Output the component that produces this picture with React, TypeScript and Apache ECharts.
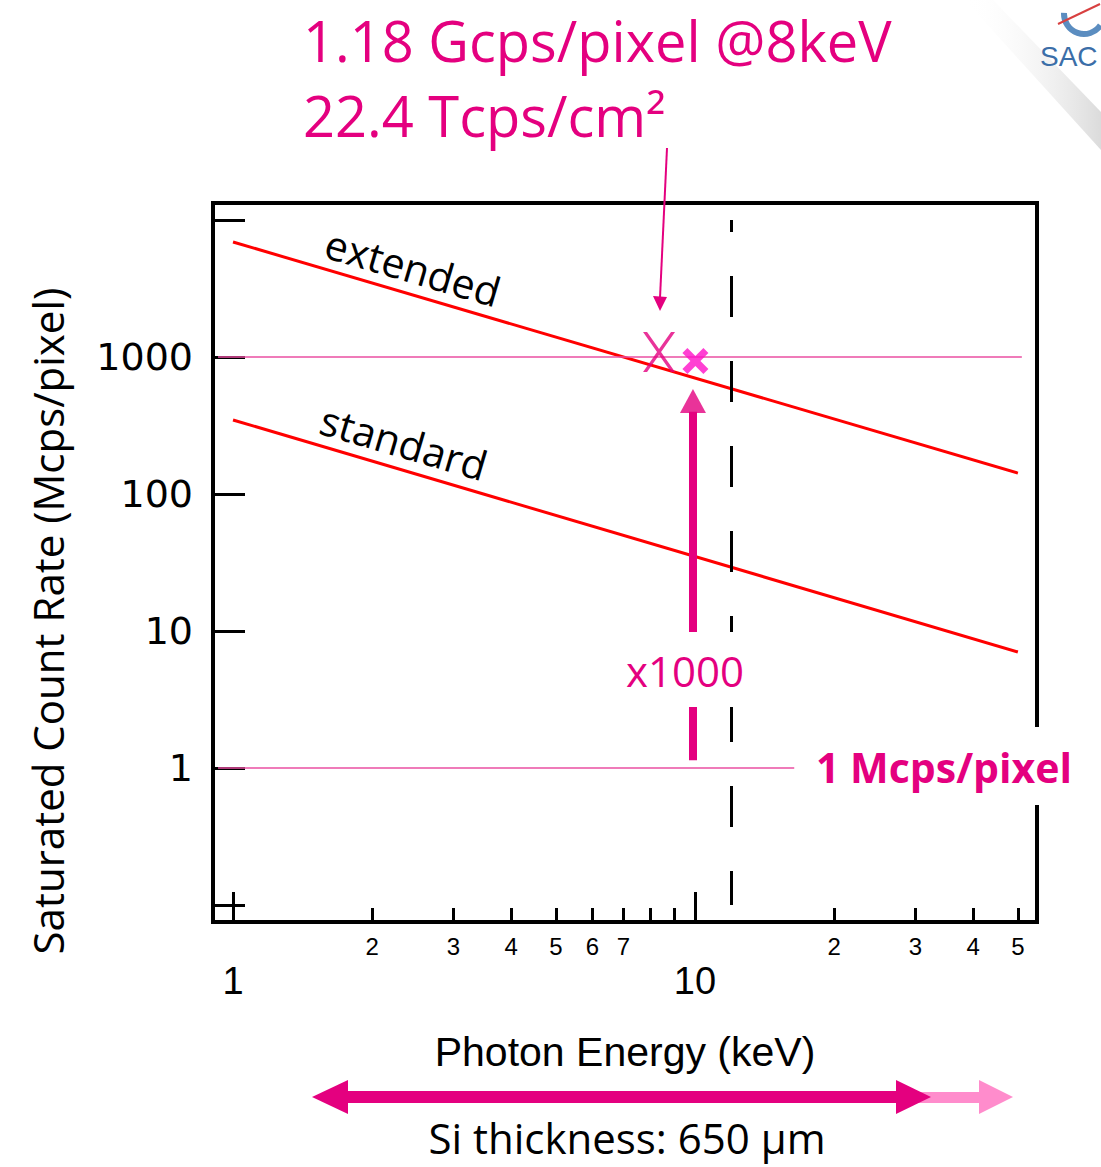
import React, { useEffect, useRef } from "react";
import * as echarts from "echarts";

// ---- data ----
const energyEnds = [1, 50]; // keV, end points of the two rate lines
const extendedRate = [6905, 142]; // Mcps/pixel
const standardRate = [347, 7.03]; // Mcps/pixel
const xMinorTicks = [2, 3, 4, 5, 6, 7, 8, 9, 20, 30, 40, 50];
const xMinorLabels = [2, 3, 4, 5, 6, 7, 20, 30, 40, 50];
const xMajorTicks = [1, 10];
const yTicks = [0.1, 1, 10, 100, 1000, 10000];
const yLabels = [1, 10, 100, 1000];
const limitRates = [1000, 1]; // horizontal reference levels
const limitEnergySpans = [
  [0.928, 51],
  [0.928, 16.4],
];
const dashedEnergy = 12;
const dashedRateSpan = [10000, 0.1];
const markThin = [8.36, 1087];
const markBold = [10.02, 935];
const arrowEnergy = 9.9;
const arrowRateSpan = [1.14, 398];
const arrowHead = [9.9, 477];

const MAG = "#e4007f";
const PINK = "#ea4fa2";
const SANS = "'Open Sans', 'Noto Sans', sans-serif";
const ARIAL = "'Liberation Sans', Arial, sans-serif";

export default function App() {
  const ref = useRef<HTMLDivElement>(null);
  useEffect(() => {
    document.body.style.margin = "0";
    const chart = echarts.init(ref.current!, null, { renderer: "svg" });
    const xBase = {
      type: "log",
      logBase: 10,
      min: 0.905,
      max: 55,
      position: "bottom",
      axisLine: { show: false },
      splitLine: { show: false },
      minorTick: { show: false },
    };
    const option: any = {
      animation: false,
      backgroundColor: "#ffffff",
      grid: {
        left: 213,
        top: 203,
        right: 64,
        bottom: 245,
        show: true,
        borderColor: "#000",
        borderWidth: 4,
        backgroundColor: "transparent",
      },
      xAxis: [
        {
          ...xBase,
          axisTick: {
            show: true,
            inside: true,
            length: 14,
            lineStyle: { color: "#000", width: 3 },
            customValues: xMinorTicks,
          },
          axisLabel: {
            customValues: xMinorLabels,
            formatter: (v: number) => String(v >= 10 ? Math.round(v / 10) : Math.round(v)),
            fontFamily: ARIAL,
            fontSize: 24,
            color: "#000",
            margin: 12,
          },
        },
        {
          ...xBase,
          axisTick: {
            show: true,
            inside: true,
            length: 30,
            lineStyle: { color: "#000", width: 3 },
            customValues: xMajorTicks,
          },
          axisLabel: {
            customValues: xMajorTicks,
            formatter: (v: number) => String(Math.round(v)),
            fontFamily: ARIAL,
            fontSize: 38,
            color: "#000",
            margin: 40,
          },
        },
      ],
      yAxis: {
        type: "log",
        logBase: 10,
        min: 0.0752,
        max: 13300,
        axisLine: { show: false },
        splitLine: { show: false },
        axisTick: {
          show: true,
          inside: true,
          length: 32,
          lineStyle: { color: "#000", width: 3 },
          customValues: yTicks,
        },
        axisLabel: {
          customValues: yLabels,
          formatter: (v: number) => String(Math.round(v)),
          fontFamily: "'DejaVu Sans', sans-serif",
          fontSize: 38,
          color: "#000",
          margin: 20,
        },
      },
      series: [
        {
          type: "line",
          name: "guides",
          data: [],
          z: 1,
          silent: true,
          markLine: {
            silent: true,
            symbol: "none",
            label: { show: false },
            data: [
              ...limitRates.map((r, i) => [
                { coord: [limitEnergySpans[i][0], r], lineStyle: { color: PINK, width: 1.5, type: "solid" } },
                { coord: [limitEnergySpans[i][1], r] },
              ]),
              [
                {
                  coord: [dashedEnergy, dashedRateSpan[0]],
                  lineStyle: { color: "#000", width: 3, type: [41, 44], dashOffset: 29 },
                },
                { coord: [dashedEnergy, dashedRateSpan[1]] },
              ],
              [
                { coord: [arrowEnergy, arrowRateSpan[0]], lineStyle: { color: MAG, width: 8, type: "solid" } },
                { coord: [arrowEnergy, arrowRateSpan[1]] },
              ],
            ],
          },
        },
        {
          type: "line",
          name: "extended",
          data: energyEnds.map((e, i) => [e, extendedRate[i]]),
          symbol: "none",
          lineStyle: { color: "#ff0000", width: 3 },
          z: 3,
        },
        {
          type: "line",
          name: "standard",
          data: energyEnds.map((e, i) => [e, standardRate[i]]),
          symbol: "none",
          lineStyle: { color: "#ff0000", width: 3 },
          z: 3,
        },
        {
          type: "scatter",
          name: "arrowHead",
          data: [arrowHead],
          symbol: "triangle",
          symbolSize: [26, 24],
          itemStyle: { color: MAG },
          z: 4,
        },
        {
          type: "scatter",
          name: "thinMark",
          data: [markThin],
          symbol:
            "path://M0,0 L4,0 L16,17 L28,0 L32,0 L18,20 L32,40 L28,40 L16,23 L4,40 L0,40 L14,20 Z",
          symbolSize: [32, 40],
          itemStyle: { color: MAG },
          z: 5,
        },
        {
          type: "scatter",
          name: "boldMark",
          data: [markBold],
          symbol:
            "path://M0,5 L5,0 L13,8 L21,0 L26,5 L18,13 L26,21 L21,26 L13,18 L5,26 L0,21 L8,13 Z",
          symbolSize: [26, 26],
          itemStyle: { color: "#ff10c8" },
          z: 5,
        },
      ],
      graphic: [
        // corner shading + logo
        {
          type: "polygon",
          z: 100,
          shape: { points: [[965, 0], [993, 0], [1101, 112], [1101, 150]] },
          style: {
            fill: new echarts.graphic.LinearGradient(0, 0, 1, 0, [
              { offset: 0, color: "rgba(255,255,255,0)" },
              { offset: 1, color: "rgba(210,210,210,0.8)" },
            ]),
          },
        },
        {
          type: "arc",
          z: 100,
          shape: { cx: 1084, cy: 14, r: 20, startAngle: 0.6, endAngle: 3.2 },
          style: { stroke: "#5b8dc0", lineWidth: 6, fill: "none" },
        },
        {
          type: "line",
          z: 100,
          shape: { x1: 1058, y1: 24, x2: 1100, y2: 4 },
          style: { stroke: "#d84040", lineWidth: 2 },
        },
        {
          type: "text",
          z: 100,
          x: 1040,
          y: 56,
          style: { text: "SAC", font: `28px ${ARIAL}`, fill: "#3b6ea8", align: "left", verticalAlign: "middle" },
        },
        // top annotation
        {
          type: "text",
          z: 100,
          x: 303,
          y: 40,
          style: { text: "1.18 Gcps/pixel @8keV", font: `56px ${SANS}`, fill: MAG, align: "left", verticalAlign: "middle" },
        },
        {
          type: "text",
          z: 100,
          x: 303,
          y: 115,
          style: { text: "22.4 Tcps/cm²", font: `56px ${SANS}`, fill: MAG, align: "left", verticalAlign: "middle" },
        },
        {
          type: "line",
          z: 100,
          shape: { x1: 667, y1: 148, x2: 660, y2: 298 },
          style: { stroke: MAG, lineWidth: 2 },
        },
        {
          type: "polygon",
          z: 100,
          shape: { points: [[653, 296], [667, 297], [660, 311]] },
          style: { fill: MAG },
        },
        // line labels
        {
          type: "text",
          z: 100,
          x: 413,
          y: 267,
          rotation: -0.286,
          style: { text: "extended", font: `41px ${SANS}`, fill: "#000", align: "center", verticalAlign: "middle" },
        },
        {
          type: "text",
          z: 100,
          x: 404,
          y: 442,
          rotation: -0.286,
          style: { text: "standard", font: `41px ${SANS}`, fill: "#000", align: "center", verticalAlign: "middle" },
        },
        // x1000 label
        { type: "rect", z: 100, shape: { x: 620, y: 632, width: 130, height: 75 }, style: { fill: "#fff" } },
        {
          type: "text",
          z: 101,
          x: 685,
          y: 670,
          style: { text: "x1000", font: `42px ${SANS}`, fill: MAG, align: "center", verticalAlign: "middle" },
        },
        // 1 Mcps/pixel label
        { type: "rect", z: 100, shape: { x: 797, y: 727, width: 300, height: 78 }, style: { fill: "#fff" } },
        {
          type: "text",
          z: 101,
          x: 816,
          y: 767,
          style: { text: "1 Mcps/pixel", font: `bold 41px ${SANS}`, fill: MAG, align: "left", verticalAlign: "middle" },
        },
        // axis titles
        {
          type: "text",
          z: 100,
          x: 47,
          y: 621,
          rotation: Math.PI / 2,
          style: {
            text: "Saturated Count Rate (Mcps/pixel)",
            font: `42px ${SANS}`,
            fill: "#000",
            align: "center",
            verticalAlign: "middle",
          },
        },
        {
          type: "text",
          z: 100,
          x: 625,
          y: 1052,
          style: { text: "Photon Energy (keV)", font: `41px ${ARIAL}`, fill: "#000", align: "center", verticalAlign: "middle" },
        },
        // Si thickness arrow
        { type: "rect", z: 100, shape: { x: 900, y: 1092, width: 82, height: 11 }, style: { fill: "#ff8ccc" } },
        {
          type: "polygon",
          z: 100,
          shape: { points: [[979, 1080], [1013, 1097], [979, 1114]] },
          style: { fill: "#ff8ccc" },
        },
        { type: "rect", z: 101, shape: { x: 345, y: 1091, width: 560, height: 12 }, style: { fill: MAG } },
        {
          type: "polygon",
          z: 101,
          shape: { points: [[312, 1097], [348, 1080], [348, 1114]] },
          style: { fill: MAG },
        },
        {
          type: "polygon",
          z: 101,
          shape: { points: [[896, 1080], [931, 1097], [896, 1114]] },
          style: { fill: MAG },
        },
        {
          type: "text",
          z: 100,
          x: 627,
          y: 1137,
          style: { text: "Si thickness: 650 µm", font: `42px ${SANS}`, fill: "#000", align: "center", verticalAlign: "middle" },
        },
      ],
    };
    chart.setOption(option);
    return () => chart.dispose();
  }, []);
  return <div ref={ref} style={{ width: 1101, height: 1167 }} />;
}
